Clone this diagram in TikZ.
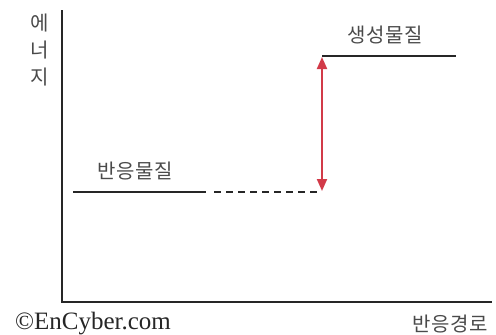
\documentclass[tikz,border=0pt]{standalone}
\usepackage{fontspec}
\setmainfont{Liberation Serif}
\newfontfamily\kr[LetterSpace=4]{Noto Sans CJK KR}
\usetikzlibrary{arrows.meta}
\definecolor{txt}{HTML}{4A4A4A}
\definecolor{arr}{HTML}{D23A48}
\begin{document}
\begin{tikzpicture}[x=1pt,y=-1pt,
  lbl/.style={font=\kr\fontsize{20}{20}\selectfont, text=txt, inner sep=0pt},
  lvl/.style={line width=2pt, draw=black!85}]
\useasboundingbox (0,0) rectangle (496,335);
% axes
\coordinate (top) at (62,10);
\coordinate (orig) at (62,302);
\coordinate (xend) at (492,302);
\draw[line width=2.2pt, draw=black!85] (top) -- (orig) -- (xend);
% axis labels
\node[lbl] (e1) at (40,23) {에};
\node[lbl] (e2) at (40,50) {너};
\node[lbl] (e3) at (40,77) {지};
\node[lbl] (path) at (450,324) {반응경로};
\node[font=\fontsize{25}{25}\selectfont, text=black!85, inner sep=0pt] (copy) at (93,324) {©EnCyber.com};
% levels
\coordinate (r1) at (73,192);
\coordinate (r2) at (206,192);
\coordinate (d1) at (214,192);
\coordinate (d2) at (320,192);
\coordinate (p1) at (322,56);
\coordinate (p2) at (456,56);
\draw[lvl] (r1) -- (r2);
\draw[lvl, dash pattern=on 7pt off 5pt] (d1) -- (d2);
\draw[lvl] (p1) -- (p2);
\node[lbl] (react) at (135,171) {반응물질};
\node[lbl] (prod) at (385,35) {생성물질};
% arrow
\coordinate (a1) at (322,191);
\coordinate (a2) at (322,57);
\draw[arr, line width=2pt, {Triangle[length=12pt,width=10pt]}-{Triangle[length=12pt,width=10pt]}] (a1) -- (a2);
\end{tikzpicture}
\end{document}
